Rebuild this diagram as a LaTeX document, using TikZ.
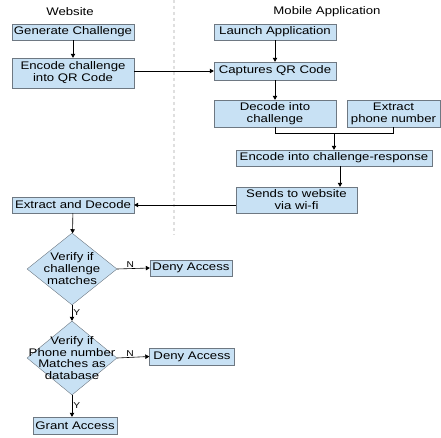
\documentclass[tikz,border=0pt]{standalone}
\usepackage{fontspec}
\setmainfont{Liberation Sans}[FakeStretch=1.2]
\usepackage{xcolor}
\usetikzlibrary{arrows.meta,positioning,shapes.geometric}
\definecolor{boxfill}{RGB}{200,225,244}
\definecolor{boxline}{RGB}{110,120,130}
\begin{document}
\begin{tikzpicture}[
  x=1pt,y=-1pt,
  font=\fontsize{11}{12}\selectfont,
  box/.style={draw=boxline,fill=boxfill,align=center,inner sep=0pt,
              minimum height=16pt,minimum width=122pt},
  ask/.style={draw=boxline,fill=boxfill,diamond,inner sep=0pt,
              minimum width=90pt,minimum height=72pt},
  asktxt/.style={align=center,inner sep=0pt},
  flow/.style={-{Triangle[length=4pt,width=4.5pt]},semithick},
  line/.style={semithick},
  lbl/.style={font=\fontsize{8.5}{9}\selectfont,inner sep=1pt},
  head/.style={font=\fontsize{11}{12}\selectfont},
]
\useasboundingbox (0,0) rectangle (441,438);

% column split
\draw[gray!25,dashed,line width=1.2pt] (174,0) -- (174,235);
\node[head] (web) at (70,12) {Website};
\node[head] (mob) at (327,12) {Mobile Application};

% website column
\node[box] (gen) at (73,32) {Generate Challenge};
\node[box,minimum height=30pt] (enc) at (73,73) {Encode challenge\\into QR Code};
\node[box] (extd) at (73,205) {Extract and Decode};
\node[ask] (ver1) at (72,269) {};
\node[asktxt] (ver1t) at (ver1) {Verify if\\challenge\\matches};
\node[box,minimum width=82pt] (deny1) at (191,268) {Deny Access};
\node[ask,minimum height=74pt] (ver2) at (72,358) {};
\node[asktxt,font=\fontsize{11}{11.5}\selectfont] (ver2t) at (ver2) {Verify if\\Phone number\\Matches as\\database};
\node[box,minimum width=85pt,minimum height=17pt] (deny2) at (192,356.5) {Deny Access};
\node[box,minimum width=84pt,minimum height=17pt] (grant) at (75,425.5) {Grant Access};

% mobile column
\node[box] (launch) at (275,32) {Launch Application};
\node[box,minimum height=18pt] (capt) at (275,71) {Captures QR Code};
\node[box,minimum height=27pt] (dec) at (275,113.5) {Decode into\\challenge};
\node[box,minimum height=27pt,minimum width=93pt] (ext) at (393.5,113.5) {Extract\\phone number};
\node[box,minimum width=196pt] (encr) at (334,158) {Encode into challenge-response};
\node[box,minimum height=26pt,minimum width=121pt] (send) at (296.5,200) {Sends to website\\via wi-fi};

% connectors
\draw[flow] (gen) -- (enc);
\draw[flow] (enc.east |- capt.west) -- (capt.west);
\draw[flow] (launch) -- (capt);
\draw[flow] (capt) -- (dec);
\draw[line] (dec.south) -- ++(0,6) coordinate (join) -| (ext.south);
\draw[flow] (encr.north |- join) -- (encr.north);
\draw[flow] (encr.south -| 340,0) -- (send.north -| 340,0);
\draw[flow] (send.west |- extd.east) -- (extd.east);
\draw[flow] (extd) -- (ver1);
\draw[flow] (ver1.east) -- node[lbl,above,pos=0.4]{N} (deny1.west);
\draw[flow] (ver1.south) -- node[lbl,right]{Y} (ver2.north);
\draw[flow] (ver2.east) -- node[lbl,above,pos=0.4]{N} (deny2.west);
\draw[flow] (ver2.south) -- node[lbl,right]{Y} (ver2.south |- grant.north);
\end{tikzpicture}
\end{document}
